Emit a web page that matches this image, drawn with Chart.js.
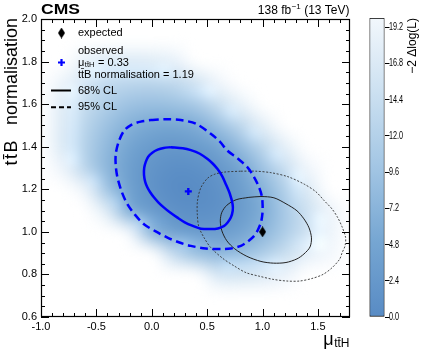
<!DOCTYPE html>
<html><head><meta charset="utf-8">
<script src="https://cdn.jsdelivr.net/npm/chart.js@4.4.1/dist/chart.umd.min.js"></script>
<style>
html,body{margin:0;padding:0;background:#fff;}
#wrap{position:relative;width:424px;height:350px;overflow:hidden;}
#main{position:absolute;left:0;top:0;}
#cbar{position:absolute;left:360px;top:0;}
</style></head><body>
<div id="wrap">
<canvas id="main" width="424" height="350"></canvas>
<canvas id="cbar" width="64" height="350"></canvas>
</div>
<script>
// ---------------- data ----------------
const muNodes  = [-1.0,-0.8,-0.6,-0.4,-0.2,0.0,0.2,0.4,0.6,0.8,1.0,1.2,1.4,1.6,1.8];
const ttbNodes = [2.0,1.9,1.8,1.7,1.6,1.5,1.4,1.3,1.2,1.1,1.0,0.9,0.8,0.7,0.6];
// -2 Delta log(L) at the nodes (rows follow ttbNodes, columns follow muNodes); 25 = beyond the colour range
const nllGrid = [
  [25,25,25,25,25,25,25,25,25,25,25,25,25,25,25],
  [25,22.9,20.8,20.8,20.8,21.5,22.8,25,25,25,25,25,25,25,25],
  [23.6,20.8,18.4,17.0,17.0,17.3,18.3,20.2,23.8,25,25,25,25,25,25],
  [22.5,18.9,16.1,13.7,13.0,12.8,13.6,15.5,19.4,23.4,25,25,25,25,25],
  [21.5,17.3,14.0,11.4,9.4,8.9,9.3,10.8,14.6,18.4,22.7,25,25,25,25],
  [21.5,16.8,12.7,9.2,6.7,5.3,5.1,6.0,9.1,13.2,17.8,22.5,25,25,25],
  [22.1,16.7,12.0,7.8,4.6,2.9,2.3,2.9,4.6,8.3,13.1,18.0,23.3,25,25],
  [25,19.0,12.7,7.3,3.7,1.6,0.7,0.9,2.3,4.8,9.4,14.5,19.4,25,25],
  [25,25,19.0,9.7,4.0,1.5,0.2,0.1,1.1,3.3,6.8,11.8,16.7,21.7,25],
  [25,25,25,16.9,5.9,3.0,1.2,0.7,1.2,3.0,5.9,10.6,15.0,19.0,25],
  [25,25,25,25,19.8,7.0,4.1,3.0,3.2,4.5,7.3,11.1,15.1,18.9,23.1],
  [25,25,25,25,25,25,13.4,8.7,7.5,8.6,11.1,14.4,17.9,19.8,23.7],
  [25,25,25,25,25,25,25,19.9,16.1,15.6,16.8,18.8,21.7,24.1,25],
  [25,25,25,25,25,25,25,25,25,25,25,25,25,25,25],
  [25,25,25,25,25,25,25,25,25,25,25,25,25,25,25]
];
const observedMu = [0.33];
const observedTtb = [1.19];
const expectedMu = [1.0];
const expectedTtb = [1.0];
// observed contours
const obs68Mu  = [0.172,0.280,0.353,0.434,0.504,0.552,0.594,0.633,0.669,0.705,0.730,0.731,0.714,0.687,0.654,0.597,0.533,0.443,0.371,0.298,0.232,0.163,0.111,0.059,0.021,-0.014,-0.039,-0.059,-0.070,-0.068,-0.054,-0.032,0.005,0.054,0.108,0.172];
const obs68Ttb = [1.398,1.393,1.384,1.367,1.342,1.320,1.295,1.264,1.224,1.179,1.130,1.099,1.067,1.045,1.028,1.016,1.013,1.015,1.028,1.045,1.067,1.092,1.114,1.139,1.161,1.186,1.208,1.235,1.268,1.301,1.329,1.353,1.372,1.386,1.394,1.398];
const obs95Mu  = [-0.009,0.127,0.262,0.398,0.533,0.615,0.684,0.778,0.865,0.922,0.970,0.995,1.001,0.999,0.986,0.958,0.925,0.868,0.805,0.714,0.624,0.488,0.353,0.244,0.142,0.036,-0.070,-0.154,-0.220,-0.271,-0.310,-0.325,-0.325,-0.298,-0.250,-0.181,-0.099,-0.009];
const obs95Ttb = [1.525,1.529,1.525,1.508,1.461,1.424,1.381,1.344,1.303,1.259,1.208,1.165,1.122,1.085,1.044,1.009,0.981,0.955,0.934,0.922,0.919,0.922,0.934,0.951,0.973,1.002,1.036,1.082,1.130,1.188,1.256,1.311,1.366,1.424,1.475,1.504,1.518,1.525];
// expected contours
const exp68Mu  = [0.877,0.986,1.103,1.212,1.311,1.374,1.420,1.442,1.429,1.374,1.311,1.212,1.099,0.986,0.859,0.750,0.678,0.633,0.619,0.633,0.678,0.762,0.877];
const exp68Ttb = [1.162,1.166,1.160,1.132,1.099,1.061,1.019,0.972,0.929,0.896,0.873,0.856,0.853,0.861,0.885,0.920,0.958,1.005,1.052,1.092,1.125,1.151,1.162];
const exp95Mu  = [0.805,0.940,1.076,1.230,1.377,1.483,1.558,1.627,1.679,1.718,1.750,1.745,1.718,1.697,1.627,1.546,1.447,1.335,1.221,1.094,0.976,0.853,0.744,0.642,0.533,0.473,0.425,0.411,0.413,0.443,0.504,0.570,0.660,0.805];
const exp95Ttb = [1.285,1.285,1.278,1.259,1.224,1.188,1.146,1.108,1.067,1.024,0.974,0.934,0.901,0.872,0.831,0.800,0.781,0.769,0.769,0.777,0.791,0.808,0.840,0.875,0.926,0.972,1.024,1.085,1.146,1.207,1.252,1.271,1.281,1.285];
// axes
const muRange  = [-1.0, 1.79];
const ttbRange = [0.6, 2.0];
const muLabelStep = 0.5, muMinorStep = 0.1;
const ttbLabelStep = 0.2, ttbMinorStep = 0.05;
const zRange   = [0, 19.8];
const zTicks   = [0.0, 2.4, 4.8, 7.2, 9.6, 12.0, 14.4, 16.8, 19.2];

// ---------------- styling helpers ----------------
const FONT = "'Liberation Sans', Arial, Helvetica, sans-serif";
const cmapStops = [[0,[88,139,196]],[5,[118,166,210]],[10,[163,198,228]],[15,[205,225,241]],[19.8,[242,247,252]]];
function colorFor(v){
  if (v <= cmapStops[0][0]) return cmapStops[0][1];
  for (let i=1;i<cmapStops.length;i++){
    const [v1,c1]=cmapStops[i], [v0,c0]=cmapStops[i-1];
    if (v <= v1){ const t=(v-v0)/(v1-v0); return c0.map((c,k)=>Math.round(c+(c1[k]-c)*t)); }
  }
  return cmapStops[cmapStops.length-1][1];
}
function pts(xs, ys){ return xs.map((x,i)=>({x, y: ys[i]})); }
function stepTicks(lo, hi, step){ const out=[]; const n0=Math.ceil(lo/step-1e-9), n1=Math.floor(hi/step+1e-9); for(let k=n0;k<=n1;k++) out.push({value: Math.round(k*step*1000)/1000}); return out; }
const isMult = (v, s) => Math.abs(v/s - Math.round(v/s)) < 1e-6;

// tall diamond marker
const diamond = document.createElement('canvas');
diamond.width = 7; diamond.height = 11;
(function(){ const c = diamond.getContext('2d'); c.fillStyle='#000'; c.beginPath(); c.moveTo(3.5,0); c.lineTo(7,5.5); c.lineTo(3.5,11); c.lineTo(0,5.5); c.closePath(); c.fill(); })();

// ---------------- plugins ----------------
const heatmapPlugin = {
  id: 'heatmap',
  beforeDatasetsDraw(chart){
    const {ctx, chartArea:a, scales:{x, y}} = chart;
    const nx = muNodes.length, ny = ttbNodes.length;
    if (!this.img){
      const c = document.createElement('canvas'); c.width = nx; c.height = ny;
      const g = c.getContext('2d'); const im = g.createImageData(nx, ny);
      for (let j=0;j<ny;j++) for (let i=0;i<nx;i++){
        const v = nllGrid[j][i]; const col = colorFor(Math.min(v, zRange[1])); const p = (j*nx+i)*4;
        im.data[p]=col[0]; im.data[p+1]=col[1]; im.data[p+2]=col[2]; im.data[p+3]= v > zRange[1] ? 0 : 255;
      }
      g.putImageData(im,0,0); this.img = c;
    }
    const hx = (muNodes[1]-muNodes[0])/2, hy = (ttbNodes[0]-ttbNodes[1])/2;
    const x0 = x.getPixelForValue(muNodes[0]-hx), x1 = x.getPixelForValue(muNodes[nx-1]+hx);
    const y0 = y.getPixelForValue(ttbNodes[0]+hy), y1 = y.getPixelForValue(ttbNodes[ny-1]-hy);
    ctx.save();
    ctx.beginPath(); ctx.rect(a.left, a.top, a.width, a.height); ctx.clip();
    ctx.imageSmoothingEnabled = true; ctx.imageSmoothingQuality = 'high';
    ctx.filter = 'blur(4px)';
    ctx.drawImage(this.img, x0, y0, x1-x0, y1-y0);
    ctx.filter = 'none';
    ctx.restore();
  }
};

const framePlugin = {
  id: 'frame',
  afterDatasetsDraw(chart){
    const {ctx, chartArea:a, scales:{x, y}} = chart;
    ctx.save();
    ctx.strokeStyle = '#000'; ctx.lineWidth = 1;
    ctx.beginPath();
    x.ticks.forEach(t => {
      const len = isMult(t.value, muLabelStep) ? 8 : 4;
      const px = Math.round(x.getPixelForValue(t.value))+0.5;
      ctx.moveTo(px, a.bottom); ctx.lineTo(px, a.bottom-len);
      ctx.moveTo(px, a.top); ctx.lineTo(px, a.top+len);
    });
    y.ticks.forEach(t => {
      const len = isMult(t.value, ttbLabelStep) ? 8 : 4;
      const py = Math.round(y.getPixelForValue(t.value))+0.5;
      ctx.moveTo(a.left, py); ctx.lineTo(a.left+len, py);
      ctx.moveTo(a.right, py); ctx.lineTo(a.right-len, py);
    });
    ctx.stroke();
    ctx.lineWidth = 1.2;
    ctx.strokeRect(a.left+0.5, a.top+0.5, a.width-1, a.height-1);
    ctx.restore();
  },
  afterDraw(chart){
    const {ctx, chartArea:a} = chart;
    ctx.save();
    ctx.fillStyle = '#000';
    // header
    ctx.font = 'bold 14px ' + FONT; ctx.textBaseline = 'alphabetic'; ctx.textAlign = 'left';
    ctx.save(); ctx.translate(a.left, 13.5); ctx.scale(1.25, 1); ctx.fillText('CMS', 0, 0); ctx.restore();
    // luminosity
    const fMain = '12px ' + FONT, fSup = '8px ' + FONT;
    ctx.font = fMain; const wA = ctx.measureText('138 fb').width, wC = ctx.measureText(' (13 TeV)').width;
    ctx.font = fSup; const wB = ctx.measureText('\u22121').width;
    const xs = a.right - 1 - (wA+wB+wC);
    ctx.font = fMain; ctx.fillText('138 fb', xs, 13.5);
    ctx.font = fSup; ctx.fillText('\u22121', xs+wA+0.5, 8.5);
    ctx.font = fMain; ctx.fillText(' (13 TeV)', xs+wA+wB+0.5, 13.5);
    // x title
    ctx.font = '18px ' + FONT; const wMu = ctx.measureText('\u03bc').width;
    ctx.font = '12px ' + FONT; const wSub = ctx.measureText('tt\u0304H').width;
    const xt = a.right - 1 - wMu - wSub;
    ctx.font = '18px ' + FONT; ctx.fillText('\u03bc', xt, 344.5);
    ctx.font = '12px ' + FONT; ctx.fillText('tt\u0304H', xt + wMu + 0.5, 347);
    // y title
    ctx.save(); ctx.translate(17, a.top-1); ctx.rotate(-Math.PI/2);
    ctx.font = '18px ' + FONT; ctx.textAlign = 'right';
    ctx.fillText('normalisation', 0, 0);
    const wN = ctx.measureText('normalisation').width;
    ctx.letterSpacing = '1.5px';
    ctx.fillText('tt\u0304B', -wN - 14, 0);
    ctx.letterSpacing = '0px';
    ctx.restore();
    // legend
    const lx = 78, mx = 61.5;
    ctx.font = '11px ' + FONT; ctx.textBaseline = 'middle'; ctx.textAlign = 'left';
    ctx.drawImage(diamond, mx-3.5, 33-5.5);
    ctx.fillText('expected', lx, 33);
    ctx.fillText('observed', lx, 50.5);
    ctx.strokeStyle = '#0000ff'; ctx.lineWidth = 2.2;
    ctx.beginPath(); ctx.moveTo(mx-3.5,62.5); ctx.lineTo(mx+3.5,62.5); ctx.moveTo(mx,59); ctx.lineTo(mx,66); ctx.stroke();
    ctx.fillText('\u03bc', lx, 62.5);
    const wm = ctx.measureText('\u03bc').width;
    ctx.font = '7.5px ' + FONT; ctx.fillText('tt\u0304H', lx+wm+0.5, 65);
    const ws = ctx.measureText('tt\u0304H').width;
    ctx.font = '11px ' + FONT; ctx.fillText(' = 0.33', lx+wm+ws+1, 62.5);
    ctx.fillText('tt\u0304B normalisation = 1.19', lx, 74.5);
    ctx.strokeStyle = '#000'; ctx.lineWidth = 2;
    ctx.beginPath(); ctx.moveTo(51, 90.5); ctx.lineTo(71, 90.5); ctx.stroke();
    ctx.fillText('68% CL', lx, 90.7);
    ctx.setLineDash([5,3]);
    ctx.beginPath(); ctx.moveTo(51, 107.3); ctx.lineTo(71, 107.3); ctx.stroke();
    ctx.setLineDash([]);
    ctx.fillText('95% CL', lx, 107.3);
    ctx.restore();
  }
};

// ---------------- main chart ----------------
const line = (label, data, color, width, dash, order) => ({
  type:'scatter', label, data, showLine:true, tension:0.3, borderColor:color, borderWidth:width,
  borderDash:dash, pointRadius:0, fill:false, order
});
new Chart(document.getElementById('main'), {
  type: 'scatter',
  data: { datasets: [
    { label:'observed', data: pts(observedMu, observedTtb), pointStyle:'cross', pointRadius:3.5,
      pointBorderWidth:2.4, borderColor:'#0000ff', backgroundColor:'#0000ff', order:0 },
    { label:'expected', data: pts(expectedMu, expectedTtb), pointStyle: diamond, order:0 },
    line('observed 68% CL', pts(obs68Mu, obs68Ttb), '#0000ff', 2.5, [], 1),
    line('observed 95% CL', pts(obs95Mu, obs95Ttb), '#0000ff', 2.5, [8,4.5], 1),
    line('expected 68% CL', pts(exp68Mu, exp68Ttb), '#222', 1, [], 2),
    line('expected 95% CL', pts(exp95Mu, exp95Ttb), '#333', 0.9, [2,1.6], 2)
  ]},
  options: {
    responsive:false, animation:false, events:[],
    layout:{ padding:{ left:0, right:74, top:19, bottom:0 } },
    plugins:{ legend:{display:false}, tooltip:{enabled:false} },
    scales:{
      x:{ type:'linear', min:muRange[0], max:muRange[1],
          grid:{display:false, drawTicks:false}, border:{display:false},
          afterBuildTicks(s){ s.ticks = stepTicks(muRange[0], muRange[1], muMinorStep); },
          ticks:{ autoSkip:false, maxRotation:0, padding:3, color:'#000',
                  font:{family:FONT, size:11},
                  callback:(v)=> isMult(v, muLabelStep) ? v.toFixed(1) : '' },
          afterFit(s){ s.height = 33; } },
      y:{ type:'linear', min:ttbRange[0], max:ttbRange[1],
          grid:{display:false, drawTicks:false}, border:{display:false},
          afterBuildTicks(s){ s.ticks = stepTicks(ttbRange[0], ttbRange[1], ttbMinorStep); },
          ticks:{ autoSkip:false, padding:4, color:'#000',
                  font:{family:FONT, size:11},
                  callback:(v)=> isMult(v, ttbLabelStep) ? v.toFixed(1) : '' },
          afterFit(s){ s.width = 41; } }
    }
  },
  plugins:[heatmapPlugin, framePlugin]
});

// ---------------- colour bar ----------------
const cbarText = {
  id:'cbarText',
  afterDraw(chart){
    const {ctx, chartArea:a, scales:{y}} = chart;
    ctx.save(); ctx.fillStyle='#000';
    // tick labels (condensed, as in the reference)
    ctx.font = '11px ' + FONT; ctx.textBaseline='middle'; ctx.textAlign='left';
    zTicks.forEach(v => {
      const py = y.getPixelForValue(v);
      ctx.save(); ctx.translate(a.right + 4.5, py); ctx.scale(0.66, 1); ctx.fillText(v.toFixed(1), 0, 0); ctx.restore();
    });
    // title
    ctx.translate(56, a.top); ctx.rotate(-Math.PI/2);
    ctx.font = '12px ' + FONT; ctx.textAlign='right'; ctx.textBaseline='alphabetic';
    ctx.fillText('\u22122 \u0394log(L)', 0, 0);
    ctx.restore();
  }
};
new Chart(document.getElementById('cbar'), {
  type:'bar',
  data:{ labels:[''], datasets:[{ label:'-2 Delta log(L)', data:[zRange.slice()], borderColor:'#000', borderWidth:1, borderSkipped:false,
    categoryPercentage:1, barPercentage:1,
    backgroundColor:(c)=>{ const a=c.chart.chartArea; if(!a) return '#ccc';
      const g=c.chart.ctx.createLinearGradient(0, a.bottom, 0, a.top);
      cmapStops.forEach(([v,col])=>g.addColorStop((v-zRange[0])/(zRange[1]-zRange[0]), 'rgb('+col.join(',')+')'));
      return g; } }]},
  options:{
    responsive:false, animation:false, events:[],
    layout:{ padding:{ left:9.5, right:0, top:18, bottom:33 } },
    plugins:{ legend:{display:false}, tooltip:{enabled:false} },
    scales:{
      x:{ display:false },
      y:{ position:'right', min:zRange[0], max:zRange[1],
          border:{display:false},
          afterBuildTicks(s){ s.ticks = zTicks.map(v=>({value:v})); },
          grid:{ drawOnChartArea:false, drawTicks:true, tickLength:5, lineWidth:1, color:'#000' },
          ticks:{ display:false },
          afterFit(s){ s.width = 39.5; } }
    }
  },
  plugins:[cbarText]
});
</script>
</body></html>
